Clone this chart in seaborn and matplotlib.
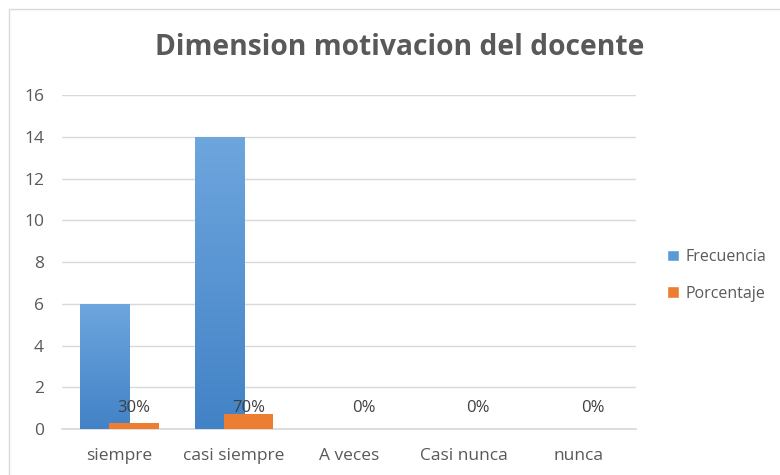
import matplotlib
matplotlib.use("Agg")
import matplotlib.pyplot as plt
import numpy as np
import pandas as pd
import seaborn as sns
from matplotlib.colors import LinearSegmentedColormap
from matplotlib.patches import Rectangle

CATEGORIES = ["siempre", "casi siempre", "A veces", "Casi nunca", "nunca"]
FRECUENCIA = [6, 14, 0, 0, 0]
PORCENTAJE = [0.3, 0.7, 0, 0, 0]
PCT_LABELS = ["30%", "70%", "0%", "0%", "0%"]
SERIES = ["Frecuencia", "Porcentaje"]
TITLE = "Dimension motivacion del docente"

BLUE = "#5B9BD5"
ORANGE = "#ED7D31"
TEXT = "#595959"
BAR_W = 0.43
OFFSET = 0.127


def main() -> None:
    sns.set_theme(style="white")
    plt.rcParams["font.family"] = ["Open Sans", "DejaVu Sans"]

    df = pd.DataFrame({
        "categoria": CATEGORIES * 2,
        "serie": [SERIES[0]] * len(CATEGORIES) + [SERIES[1]] * len(CATEGORIES),
        "valor": FRECUENCIA + PORCENTAJE,
    })

    fig = plt.figure(figsize=(7.8, 4.75), dpi=100)
    ax = fig.add_axes([0.0795, 0.0968, 0.7355, 0.7032])
    sns.barplot(data=df, x="categoria", y="valor", hue="serie", order=CATEGORIES,
                hue_order=SERIES, palette=[BLUE, ORANGE], dodge=True, width=0.54,
                saturation=1, legend=True, ax=ax)

    # Excel style: wide overlapping bars
    blue_cmap = LinearSegmentedColormap.from_list("b", ["#4282c6", "#6ea6de"])
    for i, patch in enumerate(ax.patches[:2 * len(CATEGORIES)]):
        series_idx = i // len(CATEGORIES)
        cat_idx = i % len(CATEGORIES)
        shift = -OFFSET if series_idx == 0 else OFFSET
        patch.set_x(cat_idx + shift - BAR_W / 2)
        patch.set_width(BAR_W)
        patch.set_linewidth(0)
        patch.set_zorder(3 + series_idx * 2)
        if series_idx == 0 and patch.get_height() > 0:
            x0, y0 = patch.get_x(), patch.get_y()
            h = patch.get_height()
            grad = np.linspace(0, 1, 256).reshape(-1, 1)
            img = ax.imshow(grad, cmap=blue_cmap, origin="lower", aspect="auto",
                            extent=[x0, x0 + BAR_W, y0, y0 + h], zorder=3.5)
            img.set_clip_path(patch)

    for i, lab in enumerate(PCT_LABELS):
        ax.text(i + OFFSET, 1.0, lab, ha="center", va="center", fontsize=12,
                color="#404040", zorder=6)

    ax.set_xlim(-0.5, len(CATEGORIES) - 0.5)
    ax.set_ylim(0, 16)
    ax.set_yticks(range(0, 17, 2))
    ax.yaxis.grid(True, color="#d9d9d9", linewidth=1)
    ax.set_axisbelow(True)
    for side in ["top", "right", "left"]:
        ax.spines[side].set_visible(False)
    ax.spines["bottom"].set_color("#d9d9d9")
    ax.tick_params(axis="both", length=0, labelsize=12.5, colors=TEXT)
    ax.tick_params(axis="x", pad=14)
    ax.tick_params(axis="y", pad=13)
    ax.set_xlabel("")
    ax.set_ylabel("")

    handles, labels = ax.get_legend_handles_labels()
    ax.legend(handles, labels, loc="center left", bbox_to_anchor=(1.03, 0.46),
              frameon=False, fontsize=11.5, labelcolor=TEXT, handlelength=0.75,
              handleheight=0.75, handletextpad=0.4, labelspacing=1.3)

    fig.text(0.513, 0.9, TITLE, ha="center", va="center", fontsize=20.3,
             fontweight="bold", color=TEXT)

    fig.patches.append(Rectangle((9 / 780, -0.1), 1.2, 1 - 9 / 475 + 0.1,
                                 transform=fig.transFigure, fill=False,
                                 edgecolor="#d9d9d9", linewidth=1))

    fig.savefig("out.png", dpi=100)
    plt.close(fig)


if __name__ == "__main__":
    main()
